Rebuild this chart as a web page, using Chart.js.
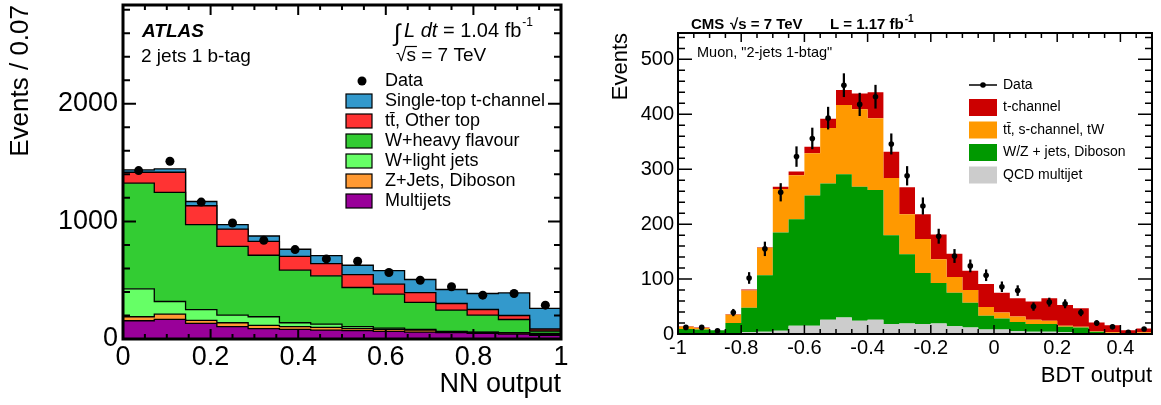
<!DOCTYPE html>
<html>
<head>
<meta charset="utf-8">
<script src="https://cdn.jsdelivr.net/npm/chart.js@4.4.1/dist/chart.umd.min.js"></script>
<style>
  body { margin: 0; background: #fff; }
  #left { position: absolute; left: 0; top: 0; width: 580px; height: 405px; }
  #right { position: absolute; left: 580px; top: 0; width: 581px; height: 405px; }
</style>
</head>
<body>
<div id="left"><canvas id="chart-nn"></canvas></div>
<div id="right"><canvas id="chart-bdt"></canvas></div>
<script>
const FONT = "'Liberation Sans', Arial, Helvetica, sans-serif"

// ATLAS: NN output, 14 bins from 0 to 1 (Events / 0.07)
const nnEdges = Array.from({ length: 15 }, (_, k) => k / 14)
const nnXTicks = [0, 0.2, 0.4, 0.6, 0.8, 1]
const nnYTicks = [0, 1000, 2000]
const nnData      = [1432, 1511, 1164, 986, 839, 760, 681, 661, 565, 500, 444, 373, 387, 288]
const nnMultijets = [155, 167, 133, 105, 88, 82, 76, 71, 65, 59, 54, 48, 42, 31]
const nnZjets     = [34, 45, 25, 33, 28, 23, 23, 17, 17, 17, 8, 8, 8, 8]
const nnWlight    = [238, 107, 91, 65, 73, 33, 28, 17, 11, 6, 3, 3, 3, 9]
const nnWheavy    = [898, 927, 723, 585, 523, 447, 410, 333, 288, 229, 181, 144, 113, 20]
const nnTtbar     = [93, 172, 161, 147, 118, 118, 104, 110, 85, 84, 56, 48, 34, 17]
const nnTchannel  = [20, 28, 36, 37, 46, 60, 68, 79, 116, 111, 119, 136, 192, 175]

// CMS: BDT output, 30 bins from -1 to 0.5
const bdtEdges = Array.from({ length: 31 }, (_, k) => -1 + k * 0.05)
const bdtXTicks = [-1, -0.8, -0.6, -0.4, -0.2, 0, 0.2, 0.4]
const bdtYTicks = [0, 100, 200, 300, 400, 500]
const bdtData   = [12, 12, 6, 39, 102, 155, 258, 323, 356, 393, 453, 418, 432, 346, 288, 233, 178, 142, 124, 107, 86, 79, 50, 58, 55, 39, 20, 13, 3, 9]
const bdtErr    = [3.5, 3.5, 2.5, 6, 10, 12.5, 16, 18, 19, 20, 21, 20.5, 21, 18.5, 17, 15, 13, 12, 11, 10, 9, 9, 7, 7.5, 7.5, 6, 4.5, 3.5, 2, 3]
const bdtQcd    = [2, 1, 1, 2, 3, 4, 6, 15, 15, 26, 30, 24, 26, 18, 19, 18, 19, 14, 12, 8, 8, 5, 4, 4, 3, 2, 2, 1, 1, 1]
const bdtWZ     = [7, 7, 6, 18, 45, 103, 179, 194, 237, 248, 261, 244, 236, 162, 126, 93, 74, 61, 45, 25, 20, 17, 14, 14, 10, 10, 2, 1, 1, 1]
const bdtTop    = [4, 3, 0, 15, 31, 50, 79, 80, 77, 101, 126, 141, 131, 104, 73, 62, 43, 29, 23, 16, 11, 10, 8, 6, 2, 1, 1, 1, 0, 1]
const bdtTchan  = [1, 1, 0, 1, 2, 1, 4, 7, 12, 17, 27, 29, 47, 48, 49, 45, 45, 42, 35, 42, 36, 33, 33, 41, 38, 34, 16, 13, 5, 7]

// running sums, bottom layer first
function cumulate(layers) {
  let run = layers[0].map(() => 0)
  return layers.map(l => (run = run.map((v, i) => v + l[i])))
}

// one point per bin edge, the last bin repeated on the closing edge
function stepPoints(edges, vals) {
  return edges.map((x, i) => ({ x, y: vals[Math.min(i, vals.length - 1)] }))
}

function centers(edges) {
  return edges.slice(1).map((x, i) => (x + edges[i]) / 2)
}

function bands(edges, layers, labels, colors, outline) {
  return cumulate(layers).map((top, i) => ({
    label: labels[i],
    data: stepPoints(edges, top),
    stepped: 'before',
    backgroundColor: colors[i],
    borderColor: outline ? '#000' : 'rgba(0,0,0,0)',
    borderWidth: outline ? 1.3 : 1,
    fill: i === 0 ? 'origin' : '-1',
    pointRadius: 0,
    order: 2
  }))
}

function put(ctx, str, x, y, size, style = '', align = 'left') {
  ctx.font = `${style} ${size}px ${FONT}`
  ctx.textAlign = align
  ctx.textBaseline = 'middle'
  ctx.fillStyle = '#000'
  ctx.fillText(str, x, y)
  return x + ctx.measureText(str).width
}

// frame with inward major/minor ticks on all four sides
const rootFrame = {
  id: 'rootFrame',
  afterDraw(chart, args, o) {
    const { ctx, chartArea: a, scales: { x, y } } = chart
    ctx.save()
    ctx.strokeStyle = '#000'
    ctx.lineWidth = o.tickWidth
    const each = (scale, minor, major, fn) => {
      for (let k = Math.ceil(scale.min / minor - 1e-6); k * minor <= scale.max + 1e-9; k++) {
        const v = k * minor
        const isMajor = Math.abs(v / major - Math.round(v / major)) < 1e-6
        fn(scale.getPixelForValue(v), isMajor)
      }
    }
    ctx.beginPath()
    each(x, o.xMinor, o.xMajor, (px, big) => {
      const len = big ? o.xMajorLen : o.xMinorLen
      ctx.moveTo(px, a.bottom); ctx.lineTo(px, a.bottom - len)
      ctx.moveTo(px, a.top); ctx.lineTo(px, a.top + len)
    })
    each(y, o.yMinor, o.yMajor, (py, big) => {
      const len = big ? o.yMajorLen : o.yMinorLen
      ctx.moveTo(a.left, py); ctx.lineTo(a.left + len, py)
      ctx.moveTo(a.right, py); ctx.lineTo(a.right - len, py)
    })
    ctx.stroke()
    ctx.lineWidth = o.frameWidth
    ctx.strokeRect(a.left, a.top, a.right - a.left, a.bottom - a.top)
    ctx.restore()
  }
}

const atlasText = {
  id: 'atlasText',
  afterDraw(chart) {
    const ctx = chart.ctx
    ctx.save()
    put(ctx, 'ATLAS', 142, 32, 19, 'italic bold')
    put(ctx, '2 jets 1 b-tag', 141, 57, 19)
    put(ctx, '\u222B', 394, 34, 24)
    let x = put(ctx, 'L dt', 404, 31, 20, 'italic')
    x = put(ctx, ' = 1.04 fb', x, 31, 20)
    put(ctx, '-1', x + 1, 23, 12)
    x = put(ctx, '\u221A', 396, 56, 19)
    const sx = x
    x = put(ctx, 's', x, 56, 19)
    ctx.lineWidth = 1.2
    ctx.beginPath(); ctx.moveTo(sx - 1, 46.5); ctx.lineTo(x + 1, 46.5); ctx.stroke()
    put(ctx, ' = 7 TeV', x, 56, 19)

    ctx.fillStyle = '#000'
    ctx.beginPath(); ctx.arc(362, 81, 4.5, 0, Math.PI * 2); ctx.fill()
    put(ctx, 'Data', 385, 81, 18)
    const sets = chart.data.datasets.filter(d => d.order === 2).reverse()
    ctx.lineWidth = 1.2
    sets.forEach((d, i) => {
      const y = 101 + 20 * i
      ctx.fillStyle = d.backgroundColor
      ctx.fillRect(346, y - 7, 26, 14)
      ctx.strokeStyle = '#000'
      ctx.strokeRect(346, y - 7, 26, 14)
      put(ctx, d.label, 385, y, 18)
    })
    ctx.restore()
  }
}

const cmsText = {
  id: 'cmsText',
  afterDraw(chart) {
    const ctx = chart.ctx
    ctx.save()
    put(ctx, 'CMS', 111, 25, 15, 'bold')
    put(ctx, '\u221As = 7 TeV', 150, 25, 15, 'bold')
    const x = put(ctx, 'L = 1.17 fb', 250, 25, 15, 'bold')
    put(ctx, '-1', x + 1, 19, 10, 'bold')
    put(ctx, 'Muon, "2-jets 1-btag"', 117, 53, 14.5)

    ctx.strokeStyle = '#000'
    ctx.lineWidth = 1.5
    ctx.beginPath(); ctx.moveTo(389, 85); ctx.lineTo(417, 85); ctx.stroke()
    ctx.fillStyle = '#000'
    ctx.beginPath(); ctx.arc(403, 85, 2.8, 0, Math.PI * 2); ctx.fill()
    put(ctx, 'Data', 423, 85, 14)
    const sets = chart.data.datasets.filter(d => d.order === 2).reverse()
    const rows = [107.5, 130, 152.5, 175]
    sets.forEach((d, i) => {
      ctx.fillStyle = d.backgroundColor
      ctx.fillRect(389, rows[i] - 8.5, 28, 17)
      put(ctx, d.label, 423, rows[i], 14)
    })
    ctx.restore()
  }
}

function axis(opts) {
  return {
    type: 'linear',
    min: opts.min,
    max: opts.max,
    offset: false,
    grid: { display: false, drawTicks: false, offset: false },
    border: { display: false },
    afterBuildTicks: s => { s.ticks = opts.ticks.map(value => ({ value })) },
    ticks: {
      padding: opts.pad, color: '#000', maxRotation: 0, autoSkip: false,
      font: { family: FONT, size: opts.size },
      callback: v => String(v)
    },
    title: {
      display: true, text: opts.title, align: 'end', color: '#000',
      font: { family: FONT, size: opts.titleSize }, padding: opts.titlePad
    },
    // fixed axis box, and no extra room for labels hanging over the ends
    afterFit: s => {
      opts.fit(s)
      s.paddingTop = 0
      s.paddingBottom = 0
    }
  }
}

function baseOptions(padding, scales, frame) {
  return {
    responsive: true,
    maintainAspectRatio: false,
    animation: false,
    events: [],
    layout: { padding },
    plugins: { legend: { display: false }, tooltip: { enabled: false }, rootFrame: frame },
    scales
  }
}

// left panel
const nnDatasets = bands(
  nnEdges,
  [nnMultijets, nnZjets, nnWlight, nnWheavy, nnTtbar, nnTchannel],
  ['Multijets', 'Z+Jets, Diboson', 'W+light jets', 'W+heavy flavour', 't\u0074\u0304, Other top', 'Single-top t-channel'],
  ['#990099', '#FF9933', '#66FF66', '#33CC33', '#FF3333', '#3399CC'],
  true
)
nnDatasets.push({
  label: 'Data',
  data: centers(nnEdges).map((x, i) => ({ x, y: nnData[i] })),
  showLine: false,
  pointRadius: 4.5,
  pointBackgroundColor: '#000',
  pointBorderWidth: 0,
  order: 0
})

new Chart(document.getElementById('chart-nn'), {
  type: 'line',
  data: { datasets: nnDatasets },
  options: baseOptions(
    { top: 5, right: 19, left: 0, bottom: 0 },
    {
      x: axis({ min: 0, max: 1, ticks: nnXTicks, pad: 2, size: 27, title: 'NN output', titleSize: 27,
        titlePad: { top: 0, bottom: 4 }, fit: s => { s.height = 66 } }),
      y: axis({ min: 0, max: 2840, ticks: nnYTicks, pad: 5, size: 27, title: 'Events / 0.07', titleSize: 26,
        titlePad: { top: 5, bottom: 0 }, fit: s => { s.width = 123 } })
    },
    { tickWidth: 2, frameWidth: 3, xMinor: 0.05, xMajor: 0.2, xMajorLen: 10, xMinorLen: 5,
      yMinor: 200, yMajor: 1000, yMajorLen: 13, yMinorLen: 7 }
  ),
  plugins: [rootFrame, atlasText]
})

// right panel
const bdtDatasets = bands(
  bdtEdges,
  [bdtQcd, bdtWZ, bdtTop, bdtTchan],
  ['QCD multijet', 'W/Z + jets, Diboson', 't\u0074\u0304, s-channel, tW', 't-channel'],
  ['#CCCCCC', '#009900', '#FF9900', '#CC0000'],
  false
)
bdtDatasets.push({
  type: 'bar',
  label: 'Data errors',
  data: centers(bdtEdges).map((x, i) => ({ x, y: [bdtData[i] - bdtErr[i], bdtData[i] + bdtErr[i]] })),
  backgroundColor: '#000',
  barThickness: 1.6,
  order: 1
})
bdtDatasets.push({
  label: 'Data',
  data: centers(bdtEdges).map((x, i) => ({ x, y: bdtData[i] })),
  showLine: false,
  pointRadius: 2.8,
  pointBackgroundColor: '#000',
  pointBorderWidth: 0,
  order: 0
})

new Chart(document.getElementById('chart-bdt'), {
  type: 'line',
  data: { datasets: bdtDatasets },
  options: baseOptions(
    { top: 33, right: 9, left: 0, bottom: 0 },
    {
      x: axis({ min: -1, max: 0.5, ticks: bdtXTicks, pad: 2, size: 20, title: 'BDT output', titleSize: 22,
        titlePad: { top: 0, bottom: 16 }, fit: s => { s.height = 71 } }),
      y: axis({ min: 0, max: 548, ticks: bdtYTicks, pad: 4, size: 20, title: 'Events', titleSize: 22,
        titlePad: { top: 28, bottom: 0 }, fit: s => { s.width = 98 } })
    },
    { tickWidth: 1.5, frameWidth: 2, xMinor: 0.05, xMajor: 0.2, xMajorLen: 9, xMinorLen: 5,
      yMinor: 20, yMajor: 100, yMajorLen: 14, yMinorLen: 7 }
  ),
  plugins: [rootFrame, cmsText]
})
</script>
</body>
</html>
